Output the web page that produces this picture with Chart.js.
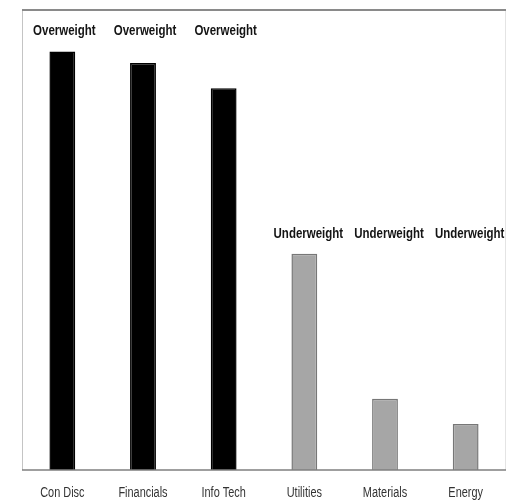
<!DOCTYPE html>
<html>
<head>
<meta charset="utf-8">
<script src="https://cdn.jsdelivr.net/npm/chart.js@4/dist/chart.umd.min.js"></script>
<style>
  html, body { margin: 0; padding: 0; background: #ffffff; }
  #c { display: block; }
</style>
</head>
<body>
<canvas id="c" width="507" height="502"></canvas>
<script>
// Sector positioning: relative score per sector
const sectors = ["Con Disc", "Financials", "Info Tech", "Utilities", "Materials", "Energy"];
const scores = [91, 88.5, 83, 47, 15.5, 10];
const stance = ["Overweight", "Overweight", "Overweight", "Underweight", "Underweight", "Underweight"];

const FONT_FAMILY = '"Liberation Sans", Arial, sans-serif';

const fillFor = s => s === "Overweight" ? "#000000" : "#a6a6a6";
const edgeFor = s => s === "Overweight" ? "#000000" : "#777777";

// Draws text horizontally condensed by factor k, centred on (x, y)
function narrowText(ctx, text, x, y, k) {
  ctx.save();
  ctx.translate(x, y);
  ctx.scale(k, 1);
  ctx.fillText(text, 0, 0);
  ctx.restore();
}

// Frame lines, category names and the stance labels above each group
const framePlugin = {
  id: "frame",
  afterDraw(chart) {
    const { ctx, chartArea: a, scales } = chart;
    ctx.save();
    // left edge
    ctx.strokeStyle = "#c4c4c4";
    ctx.lineWidth = 1;
    ctx.beginPath(); ctx.moveTo(a.left + 0.5, a.top); ctx.lineTo(a.left + 0.5, a.bottom); ctx.stroke();
    // right edge
    ctx.strokeStyle = "#e4e4e4";
    ctx.beginPath(); ctx.moveTo(a.right - 0.5, a.top); ctx.lineTo(a.right - 0.5, a.bottom); ctx.stroke();
    // top edge
    ctx.strokeStyle = "#8a8a8a";
    ctx.lineWidth = 2;
    ctx.beginPath(); ctx.moveTo(a.left, a.top); ctx.lineTo(a.right, a.top); ctx.stroke();
    // baseline
    ctx.strokeStyle = "#7f7f7f";
    ctx.lineWidth = 1.5;
    ctx.beginPath(); ctx.moveTo(a.left, a.bottom); ctx.lineTo(a.right, a.bottom); ctx.stroke();

    ctx.textAlign = "center";
    ctx.textBaseline = "middle";

    // category names under the baseline
    ctx.font = '14px ' + FONT_FAMILY;
    ctx.fillStyle = "#333333";
    sectors.forEach((name, i) => {
      narrowText(ctx, name, scales.x.getPixelForValue(i), a.bottom + 23, 0.78);
    });

    // stance labels: each group's labels sit at a common height above its tallest bar
    const groupMax = {};
    stance.forEach((s, i) => { groupMax[s] = Math.max(groupMax[s] || 0, scores[i]); });
    ctx.font = 'bold 14px ' + FONT_FAMILY;
    ctx.fillStyle = "#141414";
    stance.forEach((s, i) => {
      const x = scales.x.getPixelForValue(i);
      const y = scales.y.getPixelForValue(groupMax[s]) - 20;
      narrowText(ctx, s, x + (s === "Overweight" ? 2 : 4), y, 0.82);
    });
    ctx.restore();
  }
};

new Chart(document.getElementById("c"), {
  type: "bar",
  data: {
    labels: sectors,
    datasets: [{
      data: scores,
      backgroundColor: stance.map(fillFor),
      borderColor: stance.map(edgeFor),
      borderWidth: 1.5,
      categoryPercentage: 1,
      barPercentage: 0.32
    }]
  },
  options: {
    responsive: false,
    animation: false,
    devicePixelRatio: 1,
    layout: { padding: { top: 10, left: 22, right: 1, bottom: 0 } },
    plugins: { legend: { display: false }, tooltip: { enabled: false } },
    scales: {
      y: { display: false, min: 0, max: 100 },
      x: {
        grid: { display: false, drawTicks: false },
        border: { display: false },
        ticks: { display: false },
        afterFit(scale) { scale.height = 32; }
      }
    }
  },
  plugins: [framePlugin]
});
</script>
</body>
</html>
